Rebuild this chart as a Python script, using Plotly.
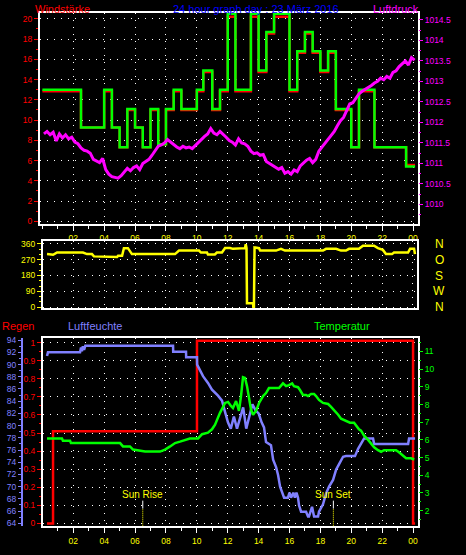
import plotly.graph_objects as go

W, H = 466, 555

# ---------------- data ----------------
hour_ticks = [2, 4, 6, 8, 10, 12, 14, 16, 18, 20, 22, 24]
hour_labels = ["02", "04", "06", "08", "10", "12", "14", "16", "18", "20", "22", "00"]

# wind speed (step series)
wind_times = [0.0, 2.5, 4.0, 4.5, 5.0, 5.5, 6.0, 6.5, 7.0, 7.5, 8.0, 8.5, 9.0, 10.0, 10.42,
              11.0, 11.5, 12.0, 12.5, 13.5, 14.0, 14.5, 15.0, 16.0, 16.5, 17.0, 17.5, 18.0,
              18.5, 19.0, 20.0, 20.5, 21.5, 23.55, 24.13]
wind_gust = [13, 9.27, 13, 9.27, 7.3, 11.1, 9.27, 7.3, 11.1, 7.6, 11.1, 13, 11.1, 13, 14.9,
             11.1, 13, 20.5, 13, 20.5, 14.9, 18.7, 20.5, 13, 16.8, 18.7, 16.8, 14.9,
             16.8, 11.1, 7.3, 13, 7.3, 5.4, 5.4]
wind_avg = [12.85, 9.27, 12.85, 9.27, 7.3, 11.0, 9.27, 7.3, 11.0, 7.6, 11.0, 12.85, 11.0, 12.85, 14.75,
            11.0, 12.85, 20.2, 12.85, 20.2, 14.75, 18.55, 20.2, 12.85, 16.65, 18.55, 16.65, 14.75,
            16.65, 11.0, 7.3, 12.85, 7.3, 5.55, 5.55]

# air pressure (hPa)
press_hours = [round(0.1 + 0.2 * i, 1) for i in range(121)]
press_vals = [
    1011.72, 1011.78, 1011.70, 1011.76, 1011.55, 1011.72, 1011.62, 1011.70, 1011.60, 1011.64,
    1011.52, 1011.48, 1011.38, 1011.32, 1011.30, 1011.25, 1011.10, 1011.05, 1011.02, 1011.12,
    1010.85, 1010.74, 1010.68, 1010.66, 1010.64, 1010.70, 1010.80, 1010.88, 1010.82, 1010.90,
    1010.94, 1010.85, 1011.00, 1011.04, 1011.10, 1011.20, 1011.30, 1011.42, 1011.45, 1011.50,
    1011.58, 1011.52, 1011.44, 1011.40, 1011.36, 1011.42, 1011.38, 1011.40, 1011.36, 1011.44,
    1011.52, 1011.60, 1011.66, 1011.72, 1011.85, 1011.74, 1011.70, 1011.78, 1011.72, 1011.64,
    1011.56, 1011.52, 1011.45, 1011.60, 1011.50, 1011.48, 1011.42, 1011.30, 1011.24, 1011.26,
    1011.20, 1011.22, 1011.05, 1011.00, 1010.95, 1010.92, 1010.86, 1010.90, 1010.76, 1010.80,
    1010.74, 1010.84, 1010.80, 1010.94, 1011.02, 1011.08, 1011.12, 1011.02, 1011.10, 1011.30,
    1011.40, 1011.50, 1011.60, 1011.70, 1011.78, 1011.92, 1012.04, 1012.12, 1012.30, 1012.45,
    1012.48, 1012.60, 1012.70, 1012.76, 1012.80, 1012.84, 1012.90, 1012.96, 1013.00, 1013.08,
    1013.04, 1013.12, 1013.08, 1013.22, 1013.26, 1013.36, 1013.42, 1013.50, 1013.40, 1013.58,
    1013.52]

# wind direction (degrees)
dir_hours = [0.30, 0.49, 0.69, 0.95, 2.63, 2.89, 3.21, 3.34, 4.18, 4.24, 4.83, 4.90, 5.16, 5.28,
             5.54, 5.80, 8.59, 8.85, 10.14, 10.27, 10.66, 10.72, 11.17, 11.30, 11.63, 11.83,
             12.15, 12.34, 13.12, 13.17, 13.22, 13.25, 13.64, 13.66, 13.70, 13.74, 14.03, 14.10,
             15.13, 15.45, 15.71, 18.17, 18.37, 19.02, 19.34, 19.66, 19.86, 20.50, 20.76, 21.48,
             21.73, 22.05, 22.25, 22.64, 22.77, 23.68, 23.81, 24.07, 24.13]
dir_vals = [302, 298, 298, 311, 311, 302, 302, 289, 289, 285, 285, 292, 292, 336,
            336, 302, 302, 322, 322, 311, 311, 300, 300, 311, 311, 337,
            337, 332, 336, 358, 336, 22, 22, 0, 0, 340, 336, 322,
            322, 332, 322, 322, 332, 332, 322, 322, 332, 332, 350, 350,
            336, 326, 302, 302, 311, 311, 332, 332, 302]

# humidity (%)
hum_hours = [0.30, 0.36, 2.44, 2.50, 2.56, 2.62, 2.70, 2.78, 2.89, 8.46, 8.47, 9.30, 9.31, 10.01,
             10.02, 10.21, 10.40, 10.72, 10.98, 11.37, 11.63, 11.83, 12.02, 12.2, 12.4, 12.6,
             12.8, 13.0, 13.2, 13.4, 13.6, 13.8, 14.0, 14.2, 14.35, 14.48, 14.80, 14.94, 15.13,
             15.26, 15.39, 15.65, 15.90, 16.00, 16.10, 16.25, 16.35, 16.45, 16.55, 16.62, 16.75,
             17.07, 17.20, 17.26, 17.46, 17.59, 17.85, 17.91, 18.17, 18.37, 18.56, 18.82, 19.02,
             19.21, 19.47, 19.66, 20.24, 20.44, 20.63, 20.83, 21.41, 21.48, 23.68, 23.74, 24.13]
hum_vals = [91.4, 92.0, 92.0, 92.8, 92.2, 93.0, 92.4, 93.1, 93.1, 93.1, 92.1, 92.1, 91.2, 91.2,
            90.0, 89.1, 88.1, 87.0, 85.9, 84.9, 84.1, 82.2, 80.5, 79.5, 81.5, 79.5,
            81.3, 83.0, 79.5, 81.5, 83.5, 82.5, 82.0, 80.5, 79.7, 77.3, 76.8, 74.4, 73.2,
            71.9, 70.0, 68.2, 68.2, 69.0, 68.2, 69.0, 68.2, 69.0, 68.2, 66.9, 65.9,
            65.9, 65.1, 65.1, 66.7, 65.1, 65.1, 65.9, 67.1, 68.9, 70.0, 71.1, 72.8,
            73.7, 74.9, 75.0, 75.0, 76.2, 77.0, 77.9, 77.9, 77.0, 77.0, 77.9, 77.9]

# temperature (deg C)
temp_hours = [0.30, 1.27, 1.33, 1.79, 1.85, 5.03, 5.22, 5.67, 5.87, 6.32, 6.65, 7.62, 7.94, 8.27,
              8.59, 8.91, 9.23, 9.55, 10.08, 10.34, 10.72, 10.98, 11.18, 11.50, 11.83, 12.02,
              12.21, 12.34, 12.54, 12.73, 12.86, 12.99, 13.12, 13.25, 13.38, 13.51, 13.64, 13.83,
              14.03, 14.29, 14.48, 14.67, 14.94, 15.32, 15.58, 15.78, 15.97, 16.17, 16.29, 16.55,
              16.68, 16.87, 17.07, 17.20, 17.40, 17.59, 17.72, 17.91, 18.17, 18.50, 18.69, 18.89,
              19.15, 19.34, 19.66, 19.92, 20.18, 20.31, 20.50, 20.63, 20.83, 21.09, 21.28, 21.48,
              21.73, 21.93, 22.12, 22.90, 23.09, 23.35, 23.55, 23.87, 24.07]
temp_vals = [6.08, 6.08, 5.95, 5.95, 5.82, 5.82, 5.63, 5.63, 5.45, 5.40, 5.34, 5.34, 5.45, 5.63,
             5.82, 5.90, 6.00, 6.08, 6.08, 6.32, 6.41, 6.60, 6.86, 7.53, 8.09, 8.15,
             7.92, 7.80, 8.20, 7.64, 8.48, 9.54, 9.50, 9.04, 8.37, 7.70, 7.42, 7.64,
             8.09, 8.48, 8.65, 8.93, 8.93, 8.93, 9.20, 9.04, 9.10, 9.20, 9.04, 8.98,
             8.82, 8.54, 8.54, 8.48, 8.60, 8.60, 8.48, 8.26, 8.09, 8.03, 7.87, 7.70,
             7.42, 7.20, 7.08, 6.97, 6.97, 6.80, 6.60, 6.52, 6.24, 6.00, 5.80, 5.58,
             5.42, 5.33, 5.42, 5.42, 5.30, 5.11, 4.96, 4.96, 4.89]

# rain (mm, step series)
rain_hours = [0.30, 0.69, 10.01, 24.0, 24.13]
rain_vals = [0.0, 0.51, 1.01, 0.0, 0.0]

sun_rise = 6.5
sun_set = 18.84

wind_ticks = [0, 2, 4, 6, 8, 10, 12, 14, 16, 18, 20]
press_ticks = [1010, 1010.5, 1011, 1011.5, 1012, 1012.5, 1013, 1013.5, 1014, 1014.5]
press_labels = ["1010", "1010.5", "1011", "1011.5", "1012", "1012.5", "1013", "1013.5", "1014", "1014.5"]
dir_ticks = [0, 90, 180, 270, 360]
dir_letters = ["N", "W", "S", "O", "N"]
rain_ticks = [0, 0.1, 0.2, 0.3, 0.4, 0.5, 0.6, 0.7, 0.8, 0.9, 1.0]
rain_labels = ["0", "0.1", "0.2", "0.3", "0.4", "0.5", "0.6", "0.7", "0.8", "0.9", "1"]
hum_ticks = list(range(64, 95, 2))
temp_ticks = [2, 3, 4, 5, 6, 7, 8, 9, 10, 11]

# ---------------- styling ----------------
RED = "#ff0000"
GREEN = "#00ff00"
MAG = "#ff00ff"
YEL = "#ffff00"
HUM = "#8080ff"
BLUE = "#0000ff"
FONT = "Liberation Sans, Arial, sans-serif"
TS = 8.5


def px_x(p):
    return p / W


def px_y(p):
    return 1 - p / H


fig = go.Figure()

fig.add_trace(go.Scatter(x=wind_times, y=wind_avg, mode="lines", xaxis="x", yaxis="y",
                         line=dict(color=RED, width=2.5, shape="hv")))
fig.add_trace(go.Scatter(x=wind_times, y=wind_gust, mode="lines", xaxis="x", yaxis="y",
                         line=dict(color=GREEN, width=2.5, shape="hv")))
fig.add_trace(go.Scatter(x=press_hours, y=press_vals, mode="lines", xaxis="x", yaxis="y2",
                         line=dict(color=MAG, width=3)))
fig.add_trace(go.Scatter(x=dir_hours, y=dir_vals, mode="lines", xaxis="x2", yaxis="y3",
                         line=dict(color=YEL, width=2.5)))
fig.add_trace(go.Scatter(x=hum_hours, y=hum_vals, mode="lines", xaxis="x3", yaxis="y5",
                         line=dict(color=HUM, width=2.5)))
fig.add_trace(go.Scatter(x=temp_hours, y=temp_vals, mode="lines", xaxis="x3", yaxis="y6",
                         line=dict(color=GREEN, width=2.5)))
fig.add_trace(go.Scatter(x=rain_hours, y=rain_vals, mode="lines", xaxis="x3", yaxis="y4",
                         line=dict(color=RED, width=2.5, shape="hv")))

grid = dict(showgrid=True, gridcolor="#ffffff", gridwidth=1, griddash="1px,6px")
nominorgrid = dict(showgrid=False, gridcolor="rgba(0,0,0,0)")

xcommon = dict(showline=True, linecolor="#ffffff", linewidth=2, mirror=True, zeroline=False,
               tickmode="array", tickvals=hour_ticks, ticktext=hour_labels, **grid)

fig.update_layout(
    width=W, height=H, margin=dict(l=0, r=0, t=0, b=0),
    paper_bgcolor="#000000", plot_bgcolor="#000000", showlegend=False,
    xaxis=dict(domain=[px_x(40), px_x(418)], range=[-0.155, 24.32], anchor="y",
               ticks="outside", ticklen=5, tickcolor="#ffffff",
               tickfont=dict(family=FONT, size=TS, color=YEL),
               minor=dict(dtick=1, tick0=0, ticks="outside", ticklen=3, tickcolor="#ffffff", **nominorgrid),
               **xcommon),
    yaxis=dict(domain=[px_y(224), px_y(10)], range=[-0.29, 20.59], anchor="x",
               showline=True, linecolor="#ffffff", linewidth=2, mirror=True, zeroline=False,
               tickmode="array", tickvals=wind_ticks, ticks="outside", ticklen=4, tickcolor=RED,
               minor=dict(dtick=1, tick0=0, ticks="outside", ticklen=2, tickcolor=RED, **nominorgrid),
               tickfont=dict(family=FONT, size=TS, color=RED), **grid),
    yaxis2=dict(overlaying="y", side="right", anchor="x", range=[1009.52, 1014.67],
                showgrid=False, zeroline=False, showline=False,
                tickmode="array", tickvals=press_ticks, ticktext=press_labels,
                ticks="outside", ticklen=4, tickcolor=MAG,
                minor=dict(dtick=0.25, tick0=1010, ticks="outside", ticklen=2, tickcolor=MAG, **nominorgrid),
                tickfont=dict(family=FONT, size=TS, color=MAG)),
    xaxis2=dict(domain=[px_x(43), px_x(417)], range=[0.04, 24.26], anchor="y3",
                showticklabels=False, ticks="", **xcommon),
    yaxis3=dict(domain=[px_y(309), px_y(241)], range=[-6, 377], anchor="x2",
                showline=True, linecolor="#ffffff", linewidth=2, mirror=True, zeroline=False,
                tickmode="array", tickvals=dir_ticks, ticks="outside", ticklen=4, tickcolor=YEL,
                minor=dict(dtick=30, tick0=0, ticks="outside", ticklen=2, tickcolor=YEL, **nominorgrid),
                tickfont=dict(family=FONT, size=TS, color=YEL), **grid),
    xaxis3=dict(domain=[px_x(43), px_x(418)], range=[0.04, 24.32], anchor="y4",
                ticks="outside", ticklen=5, tickcolor="#ffffff",
                tickfont=dict(family=FONT, size=TS, color=YEL),
                minor=dict(dtick=1, tick0=0, ticks="outside", ticklen=3, tickcolor="#ffffff", **nominorgrid),
                **xcommon),
    yaxis4=dict(domain=[px_y(530), px_y(339)], range=[-0.016, 1.027], anchor="x3",
                showline=True, linecolor="#ffffff", linewidth=2, mirror=True, zeroline=False,
                tickmode="array", tickvals=rain_ticks, ticktext=rain_labels,
                ticks="outside", ticklen=4, tickcolor=RED,
                minor=dict(dtick=0.05, tick0=0, ticks="outside", ticklen=2, tickcolor=RED, **nominorgrid),
                tickfont=dict(family=FONT, size=TS, color=RED), **grid),
    yaxis5=dict(overlaying="y4", side="left", anchor="free", position=px_x(22),
                range=[63.5, 94.4], showgrid=False, zeroline=False,
                showline=True, linecolor=HUM, linewidth=2,
                tickmode="array", tickvals=hum_ticks, ticks="outside", ticklen=3, tickcolor=HUM,
                minor=dict(dtick=1, tick0=64, ticks="outside", ticklen=2, tickcolor=HUM, **nominorgrid),
                tickfont=dict(family=FONT, size=TS, color=HUM)),
    yaxis6=dict(overlaying="y4", side="right", anchor="x3", range=[1.11, 11.78],
                showgrid=False, zeroline=False, showline=False,
                tickmode="array", tickvals=temp_ticks, ticks="outside", ticklen=4, tickcolor=GREEN,
                minor=dict(dtick=0.5, tick0=2, ticks="outside", ticklen=2, tickcolor=GREEN, **nominorgrid),
                tickfont=dict(family=FONT, size=TS, color=GREEN)),
)

anns = []


def label(text, xpx, ypx, color, size=11, xanchor="left"):
    anns.append(dict(text=text, x=px_x(xpx), y=px_y(ypx), xref="paper", yref="paper",
                     xanchor=xanchor, yanchor="middle", showarrow=False,
                     font=dict(family=FONT, size=size, color=color)))


label("Windstärke", 33, 6, RED)
label("24 hour graph day : 23 März 2016", 171, 6, BLUE)
label("Luftdruck", 371, 6, MAG)
label("Regen", 0, 327, RED)
label("Luftfeuchte", 66, 327, HUM)
label("Temperatur", 312, 327, GREEN)

for letter, deg in zip(dir_letters, dir_ticks):
    anns.append(dict(text=letter, x=px_x(439), y=deg, xref="paper", yref="y3",
                     xanchor="center", yanchor="middle", showarrow=False,
                     font=dict(family=FONT, size=12, color=YEL)))

for name, hr in (("Sun Rise", sun_rise), ("Sun Set", sun_set)):
    anns.append(dict(text=name, x=hr, y=0.158, xref="x3", yref="y4",
                     xanchor="center", yanchor="middle", showarrow=False,
                     font=dict(family=FONT, size=10, color=YEL)))

fig.update_layout(annotations=anns)

shapes = []
for hr in (sun_rise, sun_set):
    shapes.append(dict(type="line", xref="x3", yref="y4", x0=hr, x1=hr, y0=0.082, y1=0.126,
                       line=dict(color="#ffffff", width=1)))
    shapes.append(dict(type="line", xref="x3", yref="y4", x0=hr, x1=hr, y0=-0.016, y1=0.082,
                       line=dict(color=YEL, width=1, dash="1px,1px")))
fig.update_layout(shapes=shapes)

fig.write_html("out.html",
               config={"displayModeBar": False, "staticPlot": True},
               post_script="document.body.style.margin='0px';document.body.style.background='#000';")
